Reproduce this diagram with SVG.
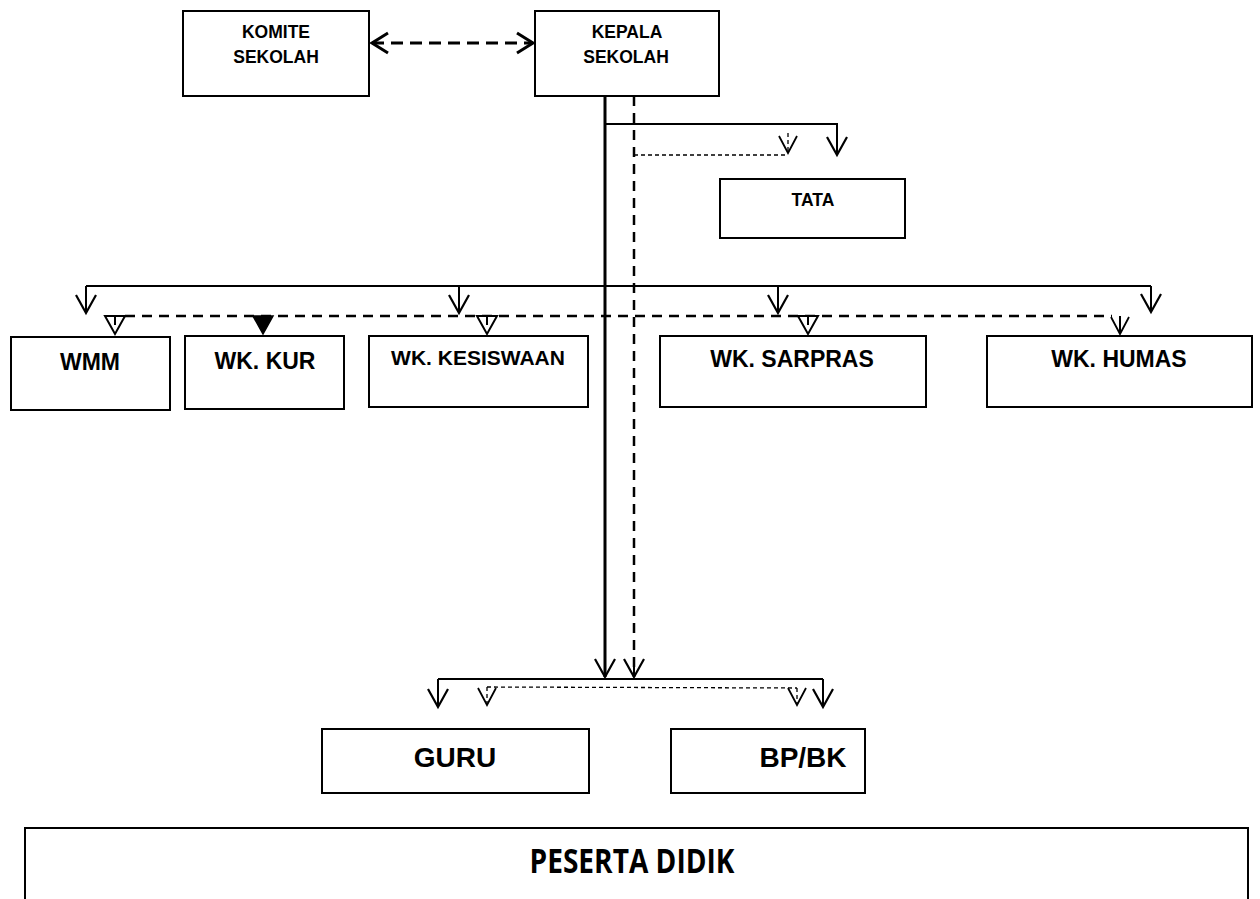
<svg xmlns="http://www.w3.org/2000/svg" xmlns:xlink="http://www.w3.org/1999/xlink" width="1260" height="899" viewBox="0 0 1260 899">
<style>
.box{fill:#fff;stroke:#000;stroke-width:2}
.t{font-family:"Liberation Sans",Arial,sans-serif;font-weight:bold;fill:#000;text-anchor:middle}
.s{fill:none;stroke:#000;stroke-width:2}
.s3{fill:none;stroke:#000;stroke-width:3}
.d{fill:none;stroke:#000;stroke-width:2.5;stroke-dasharray:10 7}
.dthin{fill:none;stroke:#000;stroke-width:1.3;stroke-dasharray:4 3}
.triO{fill:#fff;stroke:#000;stroke-width:2}
.triF{fill:#000;stroke:#000;stroke-width:1.5}
</style>
<defs>
<marker id="av" markerUnits="userSpaceOnUse" orient="auto" refX="0" refY="0" overflow="visible" markerWidth="20" markerHeight="20">
<path d="M-18,-10 L0,0 L-18,10" fill="none" stroke="#000" stroke-width="2.2" stroke-dasharray="none"/>
</marker>
<marker id="av3" markerUnits="userSpaceOnUse" orient="auto-start-reverse" refX="0" refY="0" overflow="visible" markerWidth="20" markerHeight="20">
<path d="M-16,-10 L0,0 L-16,10" fill="none" stroke="#000" stroke-width="3" stroke-dasharray="none"/>
</marker>
<marker id="avs" markerUnits="userSpaceOnUse" orient="auto" refX="0" refY="0" overflow="visible" markerWidth="20" markerHeight="20">
<path d="M-17,-9 L0,0 L-17,9" fill="none" stroke="#000" stroke-width="1.8" stroke-dasharray="none"/>
</marker>
<path id="tri" d="M-10,0 L10,0 L0,18 Z"/>
</defs>

<g id="connectors">
<path class="s3" d="M372,43 L533,43" stroke-dasharray="12 7" marker-start="url(#av3)" marker-end="url(#av3)"/>
<path class="s3" d="M605,96 L605,677" marker-end="url(#av)"/>
<path class="d" d="M634,96 L634,677" stroke-width="2.2"/>
<path class="s" d="M634,658 L634,677" marker-end="url(#av)"/>
<path class="s" d="M605,124 L837,124 L837,155" marker-end="url(#av)"/>
<path class="dthin" d="M634,155 L788,155"/>
<path class="dthin" d="M788,133 L788,153" stroke-width="1.8" marker-end="url(#avs)"/>
<path class="s" d="M86,286 L1151,286"/>
<path class="s" d="M86,286 L86,313" marker-end="url(#av)"/>
<path class="s" d="M459,286 L459,313" marker-end="url(#av)"/>
<path class="s" d="M778,286 L778,313" marker-end="url(#av)"/>
<path class="s" d="M1151,286 L1151,312" marker-end="url(#av)"/>
<path class="d" d="M125,316 L1112,316"/>
<use xlink:href="#tri" href="#tri" x="115" y="316" class="triO"/>
<path class="s" d="M115,316 L115,325"/>
<use xlink:href="#tri" href="#tri" x="263" y="316" class="triF"/>
<use xlink:href="#tri" href="#tri" x="487" y="316" class="triO"/>
<path class="s" d="M487,316 L487,325"/>
<use xlink:href="#tri" href="#tri" x="808" y="316" class="triO"/>
<path class="s" d="M808,316 L808,325"/>
<path class="s" d="M1120,316 L1120,334" marker-end="url(#avs)"/>
<path class="s" d="M438,679 L823,679"/>
<path class="s" d="M438,679 L438,707" marker-end="url(#av)"/>
<path class="s" d="M823,679 L823,707" marker-end="url(#av)"/>
<path class="dthin" d="M487,687 L797,688"/>
<path class="dthin" d="M487,687 L487,705" stroke-width="1.8" marker-end="url(#avs)"/>
<path class="dthin" d="M797,688 L797,705" stroke-width="1.8" marker-end="url(#avs)"/>
</g>

<g id="komite">
<rect class="box" x="183" y="11" width="186" height="85"/>
<text class="t" x="276" y="38" font-size="17.5">KOMITE</text>
<text class="t" x="276" y="63" font-size="17.5">SEKOLAH</text>
</g>
<g id="kepala">
<rect class="box" x="535" y="11" width="184" height="85"/>
<text class="t" x="627" y="38" font-size="17.5">KEPALA</text>
<text class="t" x="626" y="63" font-size="17.5">SEKOLAH</text>
</g>
<g id="tata">
<rect class="box" x="720" y="179" width="185" height="59"/>
<text class="t" x="813" y="206" font-size="17.5">TATA</text>
</g>
<g id="wmm">
<rect class="box" x="11" y="337" width="159" height="73"/>
<text class="t" x="90" y="370" font-size="23">WMM</text>
</g>
<g id="wkkur">
<rect class="box" x="185" y="336" width="159" height="73"/>
<text class="t" x="265" y="369" font-size="23">WK. KUR</text>
</g>
<g id="wkkesiswaan">
<rect class="box" x="369" y="336" width="219" height="71"/>
<text class="t" x="478" y="365" font-size="21">WK. KESISWAAN</text>
</g>
<g id="wksarpras">
<rect class="box" x="660" y="336" width="266" height="71"/>
<text class="t" x="792" y="367" font-size="23">WK. SARPRAS</text>
</g>
<g id="wkhumas">
<rect class="box" x="987" y="336" width="265" height="71"/>
<text class="t" x="1119" y="367" font-size="23">WK. HUMAS</text>
</g>
<g id="guru">
<rect class="box" x="322" y="729" width="267" height="64"/>
<text class="t" x="455" y="767" font-size="28">GURU</text>
</g>
<g id="bpbk">
<rect class="box" x="671" y="729" width="194" height="64"/>
<text class="t" x="803" y="767" font-size="28">BP/BK</text>
</g>
<g id="peserta">
<path d="M25,905 L25,828 L1248,828 L1248,905" fill="#fff" stroke="#000" stroke-width="2"/>
<text x="632" y="873" font-family="'Open Sans','Noto Sans',sans-serif" font-weight="bold" font-size="34" text-anchor="middle" textLength="205" lengthAdjust="spacingAndGlyphs">PESERTA DIDIK</text>
</g>
</svg>
